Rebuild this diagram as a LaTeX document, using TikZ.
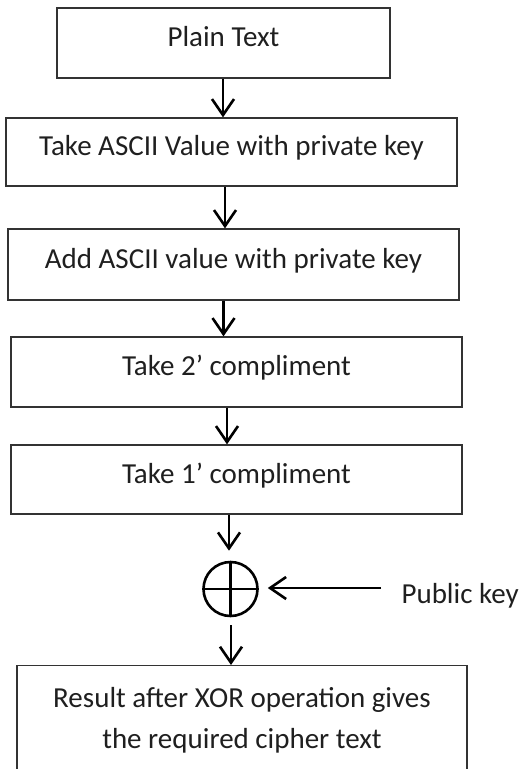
\documentclass[tikz,border=0pt]{standalone}
\usepackage{fontspec}
\setmainfont{Carlito}
\usetikzlibrary{arrows.meta}
\begin{document}
\begin{tikzpicture}[x=1pt,y=-1pt,
  every node/.style={font=\fontsize{29}{41}\selectfont, text=black!88},
  stepbox/.style={draw=black!80, line width=1.3pt, rectangle, inner sep=0pt,
    text height=20pt, text depth=13pt},
  arr/.style={line width=2.6pt, -{Straight Barb[length=16pt,width=22pt,line width=2.6pt]}},
  xorline/.style={line width=2.6pt}
]
\useasboundingbox (0,0) rectangle (528,769);
\node[stepbox, minimum width=333pt, minimum height=70pt] (b1) at (223.5,43) {Plain Text};
\node[stepbox, minimum width=451pt, minimum height=68pt] (b2) at (231.5,152) {Take ASCII Value with private key};
\node[stepbox, minimum width=451pt, minimum height=71pt] (b3) at (233.5,264.5) {Add ASCII value with private key};
\node[stepbox, minimum width=451pt, minimum height=70pt] (b4) at (236.5,372) {Take 2’ compliment};
\node[stepbox, minimum width=451pt, minimum height=69pt] (b5) at (236.5,479.5) {Take 1’ compliment};
\node[draw=black!80, line width=1.3pt, rectangle, minimum width=450pt, minimum height=130pt, anchor=north, inner sep=0pt] (b6) at (242,665) {};
\node[anchor=base] (r1) at (242,707) {Result after XOR operation gives};
\node[anchor=base] (r2) at (242,748) {the required cipher text};
\node[circle, draw=black, xorline, minimum size=54pt, inner sep=0pt] (x) at (230.5,589) {};
\draw[xorline] (x.north) -- (x.south);
\draw[xorline] (x.west) -- (x.east);
\node[anchor=base west] (pk) at (398,603) {Public key};
\coordinate (pkend) at (381,588);
\draw[arr] ([xshift=-0.5pt]b1.south) -- ([xshift=-8.5pt]b2.north);
\draw[arr] ([xshift=-6.5pt]b2.south) -- ([xshift=-8.5pt]b3.north);
\draw[arr] ([xshift=-10pt]b3.south) -- ([xshift=-13pt]b4.north);
\draw[arr] ([xshift=-9.5pt]b4.south) -- ([xshift=-9.5pt]b5.north);
\draw[arr, shorten >=10pt] ([xshift=-7.5pt]b5.south) -- ([xshift=-1.5pt]x.north);
\draw[arr, shorten <=8pt] ([xshift=0.5pt]x.south) -- ([xshift=-11pt]b6.north);
\draw[arr, shorten >=9pt] (pkend) -- (pkend -| x.east);
\end{tikzpicture}
\end{document}
